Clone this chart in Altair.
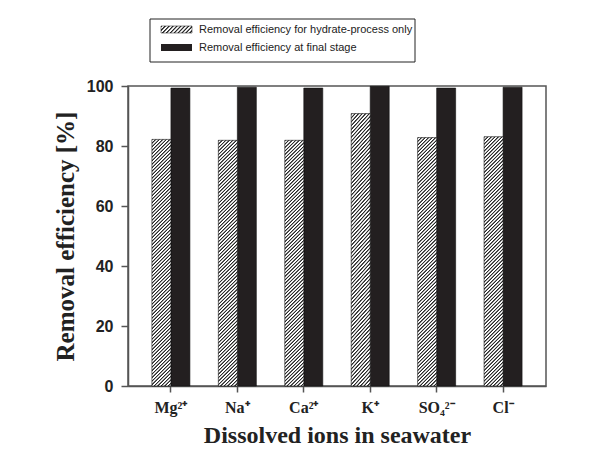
import altair as alt
import pandas as pd

ions = ["Mg²⁺", "Na⁺", "Ca²⁺", "K⁺", "SO₄²⁻", "Cl⁻"]
hydrate_only = [82.2, 81.9, 81.9, 90.8, 82.8, 83.1]
final_stage = [99.3, 99.6, 99.3, 99.9, 99.3, 99.6]
series_names = ["Removal efficiency for hydrate-process only",
                "Removal efficiency at final stage"]

rows = []
for ion, a, b in zip(ions, hydrate_only, final_stage):
    rows.append({"ion": ion, "series": series_names[0], "value": a})
    rows.append({"ion": ion, "series": series_names[1], "value": b})
df = pd.DataFrame(rows)

BLACK = "#231f20"
DARK = "#2a2a2a"


def hatch(px, py, n):
    stops = []
    for k in range(n):
        a = k / n
        stops += [{"offset": a, "color": DARK},
                  {"offset": a + 0.22 / n, "color": DARK},
                  {"offset": a + 0.45 / n, "color": "#ffffff"},
                  {"offset": a + 0.8 / n, "color": "#ffffff"}]
    stops.append({"offset": 1, "color": DARK})
    return {"gradient": "linear", "x1": 0, "y1": 0, "x2": px, "y2": py, "stops": stops}


bar_hatch = hatch(0.084, 1.1, 78)
legend_hatch = hatch(1.2, 0.264, 10)

x_enc = alt.X("ion:N", sort=ions,
              scale=alt.Scale(paddingInner=0.428, paddingOuter=0.36),
              axis=alt.Axis(title="Dissolved ions in seawater", labelAngle=0,
                            labelFont="Liberation Serif", labelFontSize=16,
                            labelFontWeight="bold", labelColor="#222",
                            labelPadding=7, tickSize=6,
                            titleFont="Liberation Serif", titleFontSize=24,
                            titleFontWeight="bold", titleColor="#222",
                            titleBaseline="alphabetic", titleY=56))
xo = alt.XOffset("series:N", sort=series_names,
                 scale=alt.Scale(domain=series_names, paddingInner=0, paddingOuter=0))
y_enc = alt.Y("value:Q", scale=alt.Scale(domain=[0, 100], nice=False),
              axis=alt.Axis(title="Removal efficiency [%]", values=[0, 20, 40, 60, 80, 100],
                            grid=False, labelFont="Liberation Sans", labelFontSize=16,
                            labelFontWeight="bold", labelColor="#222", tickSize=7,
                            labelPadding=8,
                            titleFont="Liberation Serif", titleFontSize=25,
                            titleFontWeight="bold", titleColor="#222",
                            titleBaseline="alphabetic", titleAngle=270,
                            titleX=-55, titleY=150))

solid = alt.Chart(df).transform_filter(
    alt.datum.series == series_names[1]
).mark_bar(fill=BLACK, stroke="#111", strokeWidth=0.6).encode(
    x=x_enc, xOffset=xo, y=y_enc)

hatched = alt.Chart(df).transform_filter(
    alt.datum.series == series_names[0]
).mark_bar(fill=bar_hatch, stroke="#111", strokeWidth=0.6).encode(
    x=x_enc, xOffset=xo, y=y_enc)

# manual legend
one = pd.DataFrame({"k": [0]})
legend_df = pd.DataFrame({"series": series_names})
LFONT = "Liberation Sans"

box = alt.Chart(one).mark_rect(fill="white", stroke="#222", strokeWidth=1).encode(
    x=alt.value(22), x2=alt.value(287), y=alt.value(-67), y2=alt.value(-24))
sw1 = alt.Chart(one).mark_rect(fill=legend_hatch, stroke="#111", strokeWidth=0.5).encode(
    x=alt.value(33), x2=alt.value(64), y=alt.value(-60), y2=alt.value(-53))
sw2 = alt.Chart(one).mark_rect(fill=BLACK).encode(
    x=alt.value(33), x2=alt.value(64), y=alt.value(-42), y2=alt.value(-35))
lab1 = alt.Chart(legend_df).transform_filter(
    alt.datum.series == series_names[0]
).mark_text(align="left", baseline="middle", font=LFONT, fontSize=11,
            color="#222").encode(text="series:N", x=alt.value(71), y=alt.value(-56.5))
lab2 = alt.Chart(legend_df).transform_filter(
    alt.datum.series == series_names[1]
).mark_text(align="left", baseline="middle", font=LFONT, fontSize=11,
            color="#222").encode(text="series:N", x=alt.value(71), y=alt.value(-38.5))

chart = alt.layer(solid, hatched, box, sw1, sw2, lab1, lab2).properties(
    width=418, height=300,
    autosize=alt.AutoSizeParams(type="none"),
    padding={"left": 120, "top": 78, "right": 58, "bottom": 61},
).configure_view(stroke="#555", strokeWidth=1.5).configure_axis(
    domainColor="#555", domainWidth=1.5, tickColor="#555", tickWidth=1.5
)

chart.save("out.html", embed_options={"renderer": "svg", "actions": False})
